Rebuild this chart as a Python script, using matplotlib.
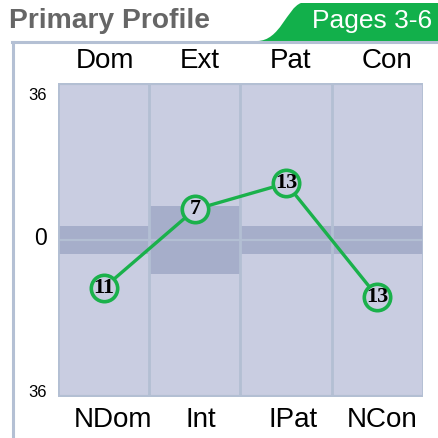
import matplotlib
matplotlib.use('Agg')
import matplotlib.pyplot as plt
from matplotlib.path import Path
from matplotlib.patches import PathPatch, Rectangle
from matplotlib.lines import Line2D
import matplotlib.transforms as mtransforms

# chart data
top_labels = ['Dom', 'Ext', 'Pat', 'Con']
bottom_labels = ['NDom', 'Int', 'IPat', 'NCon']
scores = [-11, 7, 13, -13]
band_low = [-3.2, -7.7, -3.2, -3.2]
band_high = [3.2, 7.8, 3.2, 3.2]
y_max = 36

W, H = 439, 438
fig = plt.figure(figsize=(W / 100, H / 100), dpi=100)

def fx(x):
    return x / W

def fy(y):
    return 1 - y / H

col_bg = '#c9cde1'
band_col = '#a6aeca'
grid_col = '#b3bfd3'
green = '#1ab14b'

# green tab
verts = [(fx(257), fy(41)), (fx(280), fy(41)), (fx(287), fy(8)), (fx(301), fy(3)),
         (fx(439), fy(3)), (fx(439), fy(41)), (fx(257), fy(41))]
codes = [Path.MOVETO, Path.CURVE4, Path.CURVE4, Path.CURVE4,
         Path.LINETO, Path.LINETO, Path.CLOSEPOLY]
fig.patches.append(PathPatch(Path(verts, codes), facecolor='#12b04b', edgecolor='none',
                             transform=fig.transFigure))

# frame lines
fig.lines.append(Line2D([fx(13.5), fx(13.5)], [fy(42), fy(438)], color='#b4c0d4', lw=2.2,
                        transform=fig.transFigure))
fig.lines.append(Line2D([fx(12), fx(439)], [fy(42), fy(42)], color='#b4c0d4', lw=2.2,
                        transform=fig.transFigure))

fig.text(fx(9), fy(28), 'Primary Profile', fontsize=20.3, fontweight='bold',
         color='#666666', family='Liberation Sans', va='baseline')
fig.text(fx(432), fy(28), 'Pages 3-6', fontsize=19, color='white',
         family='Liberation Sans', ha='right', va='baseline')

ax = fig.add_axes([fx(58), fy(397), fx(423) - fx(58), fy(83) - fy(397)])
n = len(top_labels)
ax.set_xlim(0, n)
ax.set_ylim(-y_max, y_max)
ax.axis('off')

for i in range(n):
    ax.add_patch(Rectangle((i, -y_max), 1, 2 * y_max, facecolor=col_bg, edgecolor='none', zorder=0))
ax.bar([i + 0.5 for i in range(n)], [h - l for l, h in zip(band_low, band_high)], width=1,
       bottom=band_low, color=band_col, zorder=1)
ax.axhline(0, color=grid_col, lw=1.6, zorder=2)
for i in range(n + 1):
    ax.axvline(i, color=grid_col, lw=2, zorder=3)
ax.axhline(y_max, color=grid_col, lw=3, zorder=3)
ax.axhline(-y_max, color=grid_col, lw=3, zorder=3)

xs = [i + 0.5 for i in range(n)]
ax.plot(xs, scores, color=green, lw=2.4, zorder=4, marker='o', markersize=19,
        markerfacecolor=col_bg, markeredgecolor=green, markeredgewidth=2.6)
for x, s in zip(xs, scores):
    ax.text(x, s, str(abs(s)), ha='center', va='center', fontsize=16, fontweight='bold',
            family='Liberation Serif', zorder=5)

# category labels
trans = mtransforms.blended_transform_factory(ax.transData, fig.transFigure)
top_shift = [0.02, 0.056, 0.053, 0.105]
bot_shift = [0.103, 0.067, 0.075, 0.051]
for i, lab in enumerate(top_labels):
    ax.text(i + 0.5 + top_shift[i], fy(68), lab, transform=trans, ha='center', va='baseline',
            fontsize=20, family='Liberation Sans')
for i, lab in enumerate(bottom_labels):
    ax.text(i + 0.5 + bot_shift[i], fy(427), lab, transform=trans, ha='center', va='baseline',
            fontsize=20, family='Liberation Sans')

# y labels
fig.text(fx(47), fy(100), str(y_max), fontsize=12, family='Liberation Sans', ha='right', va='baseline')
fig.text(fx(47), fy(245), '0', fontsize=16.5, family='Liberation Sans', ha='right', va='baseline')
fig.text(fx(47), fy(397), str(y_max), fontsize=12, family='Liberation Sans', ha='right', va='baseline')

fig.savefig('out.png', dpi=100)
